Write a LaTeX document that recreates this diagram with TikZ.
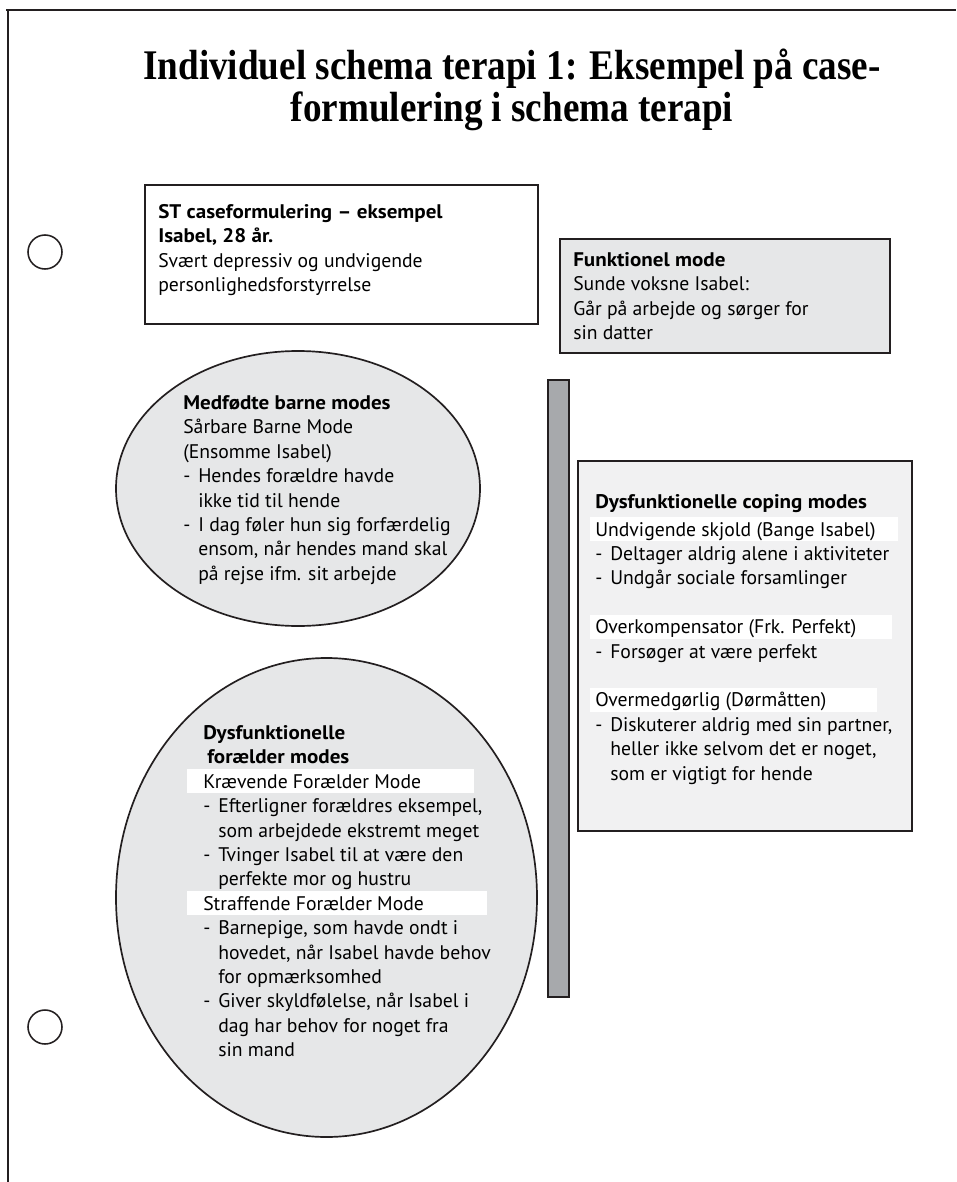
\documentclass[tikz,border=0pt]{standalone}
\usepackage{fontspec}
\setmainfont{PT Sans}[BoldFeatures={FakeStretch=1.07}]
\newfontfamily\titlefont[FakeStretch=0.88]{Liberation Serif}
\usetikzlibrary{positioning,shapes.geometric}

\definecolor{inkdark}{HTML}{231F20}
\definecolor{modefill}{HTML}{E6E7E8}
\definecolor{copingfill}{HTML}{F1F1F2}
\definecolor{barfill}{HTML}{A7A9AC}

% one unit of the drawing grid
\newlength\px
\setlength\px{0.025cm}
\newlength\dashw
\newlength\dashin
\setlength\dashw{15\px}
\setlength\dashin{0pt}
% dash item and its continuation lines
\newcommand\itm{\makebox[\dashw][l]{\hspace*{\dashin}-}}
\newcommand\cnt{\hspace*{\dashw}}
% white band behind a sub-heading: lead-in, band width, text
\newcommand\hlband[3]{\makebox[0pt][l]{\hspace*{-#1\px}\textcolor{white}{\rule[-5\px]{#2\px}{24\px}}}#3}

\tikzset{
  modebox/.style={draw=inkdark, line width=1.2pt, anchor=north west, inner sep=0pt},
  modeoval/.style={ellipse, draw=inkdark, line width=1.2pt, fill=modefill, inner sep=0pt},
  modetext/.style={anchor=north west, align=left, inner sep=0pt, font=\fontsize{14}{17.36}\selectfont},
  punch/.style={circle, draw=inkdark, line width=1.1pt, minimum size=34\px, inner sep=0pt}
}

\begin{document}
\begin{tikzpicture}[x=0.025cm, y=-0.025cm]
\useasboundingbox (0,0) rectangle (956,1182);

% page edge
\draw[inkdark, line width=1.2pt] (6,10) -- (956,10);
\draw[inkdark, line width=1.2pt] (8,10) -- (8,1182);
\node[punch] (hole1) at (45,252) {};
\node[punch] (hole2) at (45,1027) {};

\node[font={\titlefont\bfseries\fontsize{30}{29.5}\selectfont}, align=center, inner sep=0pt] (title) at (512,90)
  {Individuel schema terapi 1: Eksempel på case-\\formulering i schema terapi};

% case box
\node[modebox, minimum width=393\px, minimum height=139\px] (stcase) at (144,184) {};
\node[modetext, below right=17\px and 14\px of stcase.north west] (stcasetxt)
  {\strut\textbf{ST caseformulering – eksempel}\\
   \textbf{Isabel, 28 år.}\\
   Svært depressiv og undvigende\\
   personlighedsforstyrrelse};

% healthy adult
\node[modebox, fill=modefill, minimum width=330\px, minimum height=114\px] (funcmode) at (559,238) {};
\node[modetext, below right=11\px and 14\px of funcmode.north west] (funcmodetxt)
  {\strut\textbf{Funktionel mode}\\
   Sunde voksne Isabel:\\
   Går på arbejde og sørger for\\
   sin datter};

% child modes
\node[modeoval, minimum width=364\px, minimum height=275\px] (childmodes) at (298,488.5) {};
\node[modetext] (childtxt) at (183,392)
  {\strut\textbf{Medfødte barne modes}\\
   Sårbare Barne Mode\\
   (Ensomme Isabel)\\
   \itm Hendes forældre havde\\
   \cnt ikke tid til hende\\
   \itm I dag føler hun sig forfærdelig\\
   \cnt ensom, når hendes mand skal\\
   \cnt på rejse ifm. sit arbejde};

% divider bar
\node[modebox, fill=barfill, minimum width=21\px, minimum height=617\px] (divider) at (547,379) {};

% coping modes
\node[modebox, fill=copingfill, minimum width=334\px, minimum height=370\px] (coping) at (577,460) {};
\node[modetext, below right=31\px and 18\px of coping.north west] (copingtxt)
  {\strut\textbf{Dysfunktionelle coping modes}\\
   \hlband{5}{308}{Undvigende skjold (Bange Isabel)}\\
   \itm Deltager aldrig alene i aktiviteter\\
   \itm Undgår sociale forsamlinger\\[17.36pt]
   \hlband{5}{302}{Overkompensator (Frk. Perfekt)}\\
   \itm Forsøger at være perfekt\\[17.36pt]
   \hlband{5}{287}{Overmedgørlig (Dørmåtten)}\\
   \itm Diskuterer aldrig med sin partner,\\
   \cnt heller ikke selvom det er noget,\\
   \cnt som er vigtigt for hende};

% parent modes
\node[modeoval, minimum width=421\px, minimum height=479\px] (parentmodes) at (326.5,897.5) {};
\node[modetext] (parenttxt) at (203,722)
  {\setlength\dashw{20\px}\setlength\dashin{3\px}%
   \strut\textbf{Dysfunktionelle}\\
   \hspace*{4\px}\textbf{forælder modes}\\
   \hlband{16}{287}{Krævende Forælder Mode}\\
   \itm Efterligner forældres eksempel,\\
   \cnt som arbejdede ekstremt meget\\
   \itm Tvinger Isabel til at være den\\
   \cnt perfekte mor og hustru\\
   \hlband{16}{300}{Straffende Forælder Mode}\\
   \itm Barnepige, som havde ondt i\\
   \cnt hovedet, når Isabel havde behov\\
   \cnt for opmærksomhed\\
   \itm Giver skyldfølelse, når Isabel i\\
   \cnt dag har behov for noget fra\\
   \cnt sin mand};
\end{tikzpicture}
\end{document}
